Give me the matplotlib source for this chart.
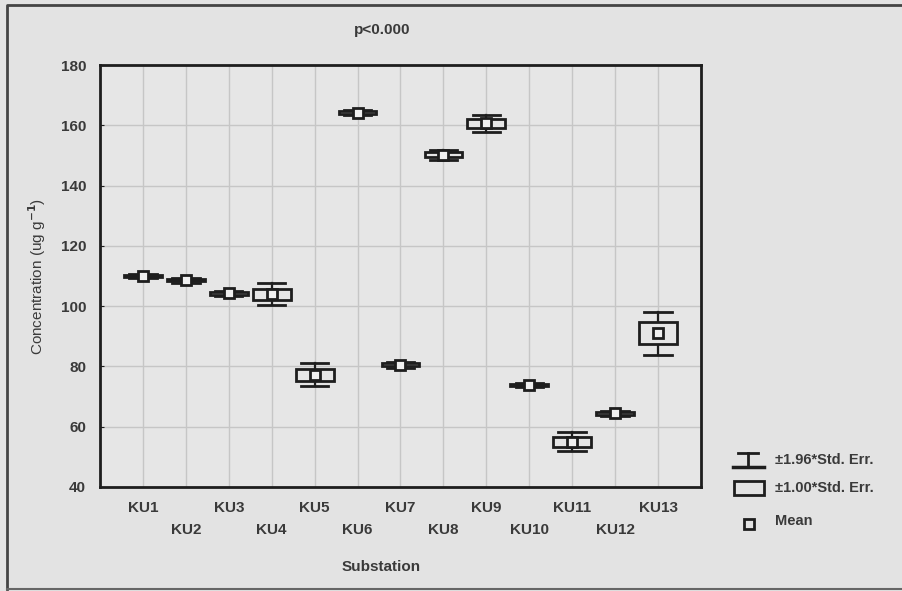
import numpy as np
import matplotlib
matplotlib.use('Agg')
from matplotlib import pyplot as pl
from matplotlib.patches import Rectangle

pl.rcParams['font.family'] = ['Liberation Sans', 'DejaVu Sans']
pl.rcParams['font.weight'] = 'bold'

# Mean concentration and standard error for each substation
stations = ['KU1', 'KU2', 'KU3', 'KU4', 'KU5', 'KU6', 'KU7',
            'KU8', 'KU9', 'KU10', 'KU11', 'KU12', 'KU13']
means = [110.0, 108.6, 104.2, 104.0, 77.3, 164.2, 80.6,
         150.2, 160.6, 73.8, 55.0, 64.4, 91.0]
stderr = [0.4, 0.4, 0.5, 1.8, 2.0, 0.4, 0.5,
          0.8, 1.5, 0.4, 1.6, 0.4, 3.6]

bg = '#e3e3e3'
ink = '#1e1e1e'
txt = '#3a3a3a'

fig = pl.figure(figsize=(9.03, 5.91), dpi=100, facecolor=bg)

# Whole-figure overlay in pixel units for the frame and the legend
frame = fig.add_axes([0, 0, 1, 1], zorder=-1)
frame.set_xlim(0, 903)
frame.set_ylim(591, 0)
frame.axis('off')
frame.plot([7, 7, 903], [589, 5, 5], color='#444444', lw=2)
frame.plot([7, 903], [589, 589], color='#666666', lw=1.5)

ax = fig.add_axes([0.1107, 0.176, 0.6656, 0.714])
ax.set_facecolor('#e6e6e6')

x = np.arange(1, len(stations) + 1)
boxw = 0.88
capw = 0.64
for xi, m, s in zip(x, means, stderr):
    w = 1.96 * s
    # whisker stems and caps
    ax.plot([xi, xi], [m - w, m + w], color=ink, lw=1.6, zorder=3)
    ax.plot([xi - capw / 2, xi + capw / 2], [m + w, m + w],
            color=ink, lw=2, zorder=3)
    ax.plot([xi - capw / 2, xi + capw / 2], [m - w, m - w],
            color=ink, lw=2, zorder=3)
    # +-1 SE box
    ax.add_patch(Rectangle((xi - boxw / 2, m - s), boxw, 2 * s,
                           facecolor='#e6e6e6', edgecolor=ink,
                           lw=2, zorder=4))
    # mean marker
    ax.plot(xi, m, marker='s', ms=7.5, mfc='#f0f0f0', mec=ink,
            mew=2, zorder=5)

ax.set_xlim(0, 14)
ax.set_ylim(40, 180)
ax.set_xticks(x)
ax.set_yticks(np.arange(40, 181, 20))
ax.set_xticklabels([])
ax.grid(True, color='#c6c6c6', lw=1)
ax.set_axisbelow(True)
for sp in ax.spines.values():
    sp.set_color(ink)
    sp.set_linewidth(2)
ax.tick_params(axis='both', direction='in', length=3, color=ink,
               labelsize=11, labelcolor=txt)
ax.tick_params(axis='y', pad=10)
ax.tick_params(axis='x', length=0)

# staggered station labels below the axis
for i, (xi, name) in enumerate(zip(x, stations)):
    yoff = -0.05 if i % 2 == 0 else -0.102
    ax.text(xi, yoff, name, transform=ax.get_xaxis_transform(),
            ha='center', va='center', fontsize=11, color=txt)

fig.text(381 / 903, 1 - 567 / 591, 'Substation', ha='center',
         va='center', fontsize=11, color=txt)
fig.text(37 / 903, 1 - 276 / 591, r'Concentration (ug g$^{\mathbf{-1}}$)',
         rotation=90, ha='center', va='center', fontsize=11,
         fontweight='normal', color=txt)
fig.text(382 / 903, 1 - 30 / 591, 'p<0.000', ha='center', va='center',
         fontsize=11, color=txt)

# legend drawn beside the plot
frame.plot([738, 758], [453, 453], color=ink, lw=2)
frame.plot([733, 764], [467, 467], color=ink, lw=2.5)
frame.plot([748, 748], [453, 467], color=ink, lw=2)
frame.text(775, 460, '±1.96*Std. Err.', va='center', fontsize=10.5,
           color=txt)
frame.add_patch(Rectangle((734, 481), 30, 14, facecolor='none',
                          edgecolor=ink, lw=2))
frame.text(775, 488, '±1.00*Std. Err.', va='center', fontsize=10.5,
           color=txt)
frame.plot(749, 524, marker='s', ms=7, mfc='none', mec=ink, mew=2)
frame.text(775, 521, 'Mean', va='center', fontsize=10.5, color=txt)

fig.savefig('out.png', dpi=100, facecolor=bg)
